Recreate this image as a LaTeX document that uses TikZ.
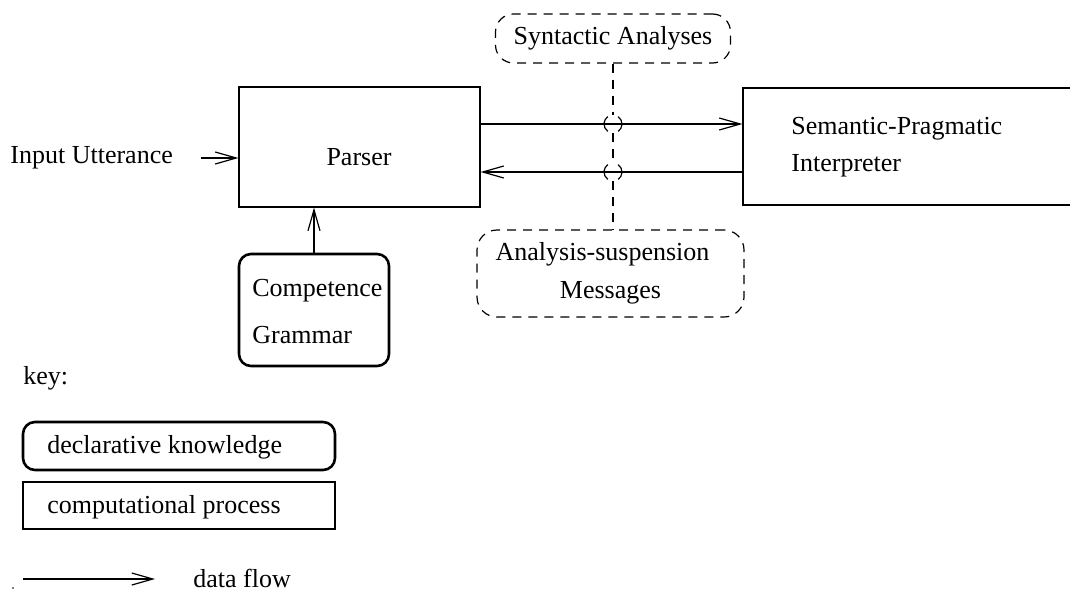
\documentclass[tikz,border=0pt]{standalone}
\usepackage{fontspec}
\setmainfont{Liberation Serif}
\usetikzlibrary{arrows.meta}
\usetikzlibrary{positioning}
\usetikzlibrary{calc}

\tikzset{
  procbox/.style={draw, line width=0.6pt, rectangle, inner sep=0pt},
  knowbox/.style={draw, line width=1.3pt, rectangle, rounded corners=6pt, inner sep=0pt},
  databox/.style={draw, line width=0.6pt, dash pattern=on 4.5pt off 3.5pt, rectangle, rounded corners=9pt, inner sep=0pt, font=\fontsize{13}{19}\selectfont},
  dashline/.style={line width=0.6pt, dash pattern=on 4.5pt off 3.5pt},
  flow/.style={line width=0.6pt, -{Straight Barb[length=10.5pt,width=6pt]}},
  txt/.style={inner sep=0pt, font=\fontsize{13}{18.5}\selectfont}
}

\begin{document}
\begin{tikzpicture}[x=0.5pt, y=-0.5pt]
  \useasboundingbox (0,0) rectangle (1070,594);

  % Processes
  \node[procbox, minimum width=120.5pt, minimum height=60pt] (parser) at (359.5,147) {};
  \node[txt] (parsertxt) at (359,157) {Parser};
  \node[procbox, minimum width=168.5pt, minimum height=58.5pt] (sem) at (911.5,146.5) {};
  \node[txt, anchor=west, align=left] (semtxt) at (791,147) {Semantic-Pragmatic\\Interpreter};

  % Knowledge
  \node[knowbox, minimum width=75pt, minimum height=56pt] (gram) at (314,310) {};
  \node[txt, anchor=west, align=left] (gramtxt) at (252,312) {Competence\\[5pt]Grammar};

  % Data
  \node[databox, minimum width=117.5pt, minimum height=24.5pt] (syn) at (613,38.5) {Syntactic Analyses};
  \node[databox, minimum width=133.5pt, minimum height=43.5pt, align=center, rounded corners=10pt] (msgs) at (610.5,273.5) {\hspace*{-8pt}Analysis-suspension\\Messages};
  \node[txt, anchor=west] (inp) at (10,158) {Input Utterance};

  % Flows
  \draw[flow] ([xshift=14pt]inp.east) -- (inp.east -| parser.west);
  \draw[flow] (gram.north) -- (gram.north |- parser.south);
  \draw[flow] ([yshift=11.5pt]parser.east) -- ([yshift=11.5pt]parser.east -| sem.west);
  \draw[flow] ([yshift=-12.5pt]parser.east -| sem.west) -- ([yshift=-12.5pt]parser.east);

  % dashed link with hops
  \coordinate (hopA) at ([yshift=11.5pt]parser.east -| syn.south);
  \coordinate (hopB) at ([yshift=-12.5pt]parser.east -| syn.south);
  \draw[dashline] (syn.south) -- ([yshift=4.5pt]hopA);
  \draw[dashline] ([yshift=-4.5pt]hopA) -- ([yshift=4.5pt]hopB);
  \draw[dashline] ([yshift=-4.5pt]hopB) -- (msgs.north -| hopB);
  \foreach \h in {hopA,hopB}{
    \draw[line width=0.6pt] ([shift={(\h)}]125:9) arc[start angle=125, end angle=235, radius=9];
    \draw[line width=0.6pt] ([shift={(\h)}]-55:9) arc[start angle=-55, end angle=55, radius=9];
  }

  % Key
  \node[txt, anchor=west] (key) at (23,378) {key:};
  \node[knowbox, minimum width=156pt, minimum height=24pt] (kdecl) at (179,446) {};
  \node[txt, anchor=west] (kdecltxt) at (47,447) {declarative knowledge};
  \node[procbox, minimum width=156pt, minimum height=23.5pt] (kcomp) at (179,505.5) {};
  \node[txt, anchor=west] (kcomptxt) at (47,507) {computational process};
  \coordinate (kflowA) at (23,579);
  \coordinate (kflowB) at (155,579);
  \draw[flow] (kflowA) -- (kflowB);
  \node[txt, anchor=west] (kflowtxt) at (193,578) {data flow};
  \fill (13,588) circle[radius=0.8];

\end{tikzpicture}
\end{document}
